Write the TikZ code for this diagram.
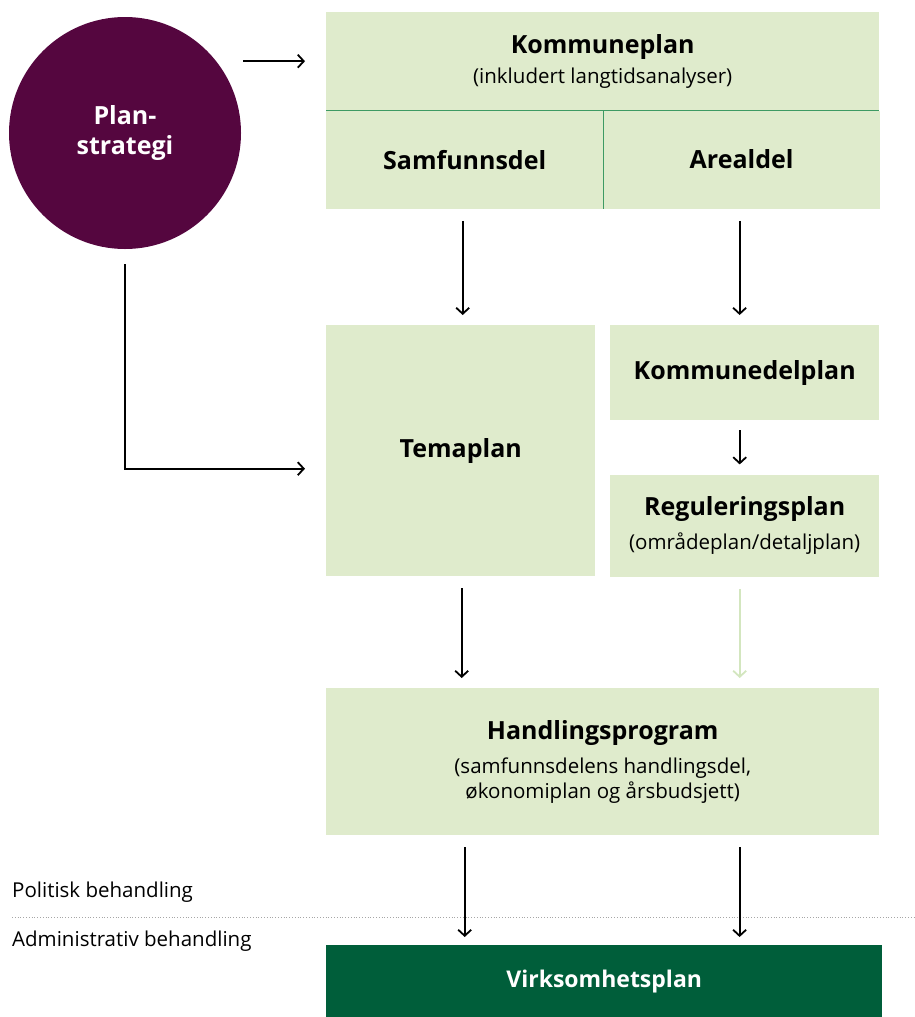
\documentclass[tikz,border=0pt]{standalone}
\usepackage{fontspec}
\setmainfont{Open Sans}
\usetikzlibrary{arrows.meta, positioning}
\definecolor{planlys}{HTML}{DFEBCC}
\definecolor{planlinje}{HTML}{3E9A63}
\definecolor{planlilla}{HTML}{55063F}
\definecolor{planmork}{HTML}{005E3A}
\definecolor{pilgronn}{HTML}{D3E6BF}
\newcommand{\tittelfont}{\fontsize{25}{32}\selectfont\bfseries}
\newcommand{\undertekst}{\fontsize{20.5}{26}\selectfont}
\tikzset{
  boks/.style={fill=planlys, inner sep=0pt, align=center, anchor=north west},
  pil/.style={-{Straight Barb[length=6pt, width=13pt]}, line width=1.8pt},
}

\begin{document}
\begin{tikzpicture}[x=1pt, y=-1pt]
\useasboundingbox (0,0) rectangle (915,1017);

\node[circle, fill=planlilla, minimum size=232pt, inner sep=0pt, text=white, align=center, font=\tittelfont] (strategi) at (125,133) {Plan-\\[-2pt]strategi};

\node[boks, minimum width=553pt, minimum height=98pt] (kplan) at (326,12) {{\tittelfont Kommuneplan}\\[7pt] {\undertekst (inkludert langtidsanalyser)}};
\node[boks, minimum width=277pt, minimum height=98pt, font=\tittelfont, below right=0pt and 0pt of kplan.south west] (samf) {Samfunnsdel};
\node[boks, minimum width=276pt, minimum height=98pt, font=\tittelfont, right=0pt of samf] (areal) {Arealdel};
\draw[planlinje, line width=1.6pt] (kplan.south west) -- (kplan.south east);
\draw[planlinje, line width=1.6pt] (samf.north east) -- (samf.south east);

\node[boks, minimum width=269pt, minimum height=251pt, font=\tittelfont] (tema) at (326,325) {Temaplan};
\node[boks, minimum width=269pt, minimum height=95pt, font=\tittelfont] (kdel) at (610,325) {Kommunedelplan};
\node[boks, minimum width=269pt, minimum height=102pt, below=54pt of kdel.south west, anchor=north west] (regplan) {{\tittelfont Reguleringsplan}\\[11pt] {\undertekst (områdeplan/detaljplan)}};

\node[boks, minimum width=553pt, minimum height=147pt] (hprog) at (326,688) {{\tittelfont Handlingsprogram}\\[12pt] {\undertekst (samfunnsdelens handlingsdel,}\\[2pt] {\undertekst økonomiplan og årsbudsjett)}};

\node[boks, fill=planmork, text=white, minimum width=556pt, minimum height=72pt, font=\fontsize{23}{28}\selectfont\bfseries] (virk) at (326,945) {Virksomhetsplan};

\node[anchor=west, inner sep=0pt, font=\undertekst] (politisk) at (12,892) {Politisk behandling};
\node[anchor=west, inner sep=0pt, font=\undertekst] (admin) at (12,941) {Administrativ behandling};
\draw[gray!70, dotted, line width=0.8pt] (12,917) -- (915,917);

% piler
\draw[pil] ([xshift=2pt]strategi.east |- kplan.west) -- ([xshift=-21pt]kplan.west);
\draw[pil] ([yshift=-15pt]strategi.south) |- ([xshift=-21pt, yshift=-18pt]tema.west);
\draw[pil] ([xshift=-2pt, yshift=-12pt]samf.south) -- ([xshift=-2pt, yshift=10pt]samf.south |- tema.north);
\draw[pil] ([xshift=-2pt, yshift=-12pt]areal.south) -- ([xshift=-2pt, yshift=10pt]areal.south |- kdel.north);
\draw[pil] ([xshift=-5pt, yshift=-10pt]kdel.south) -- ([xshift=-5pt, yshift=10pt]regplan.north);
\draw[pil] ([xshift=1pt, yshift=-12pt]tema.south) -- ([xshift=1pt, yshift=10pt]tema.south |- hprog.north);
\draw[pil, pilgronn] ([xshift=-5pt, yshift=-12pt]regplan.south) -- ([xshift=-5pt, yshift=10pt]regplan.south |- hprog.north);
\draw[pil] ([yshift=-12pt]samf.south |- hprog.south) -- ([yshift=8pt]samf.south |- virk.north);
\draw[pil] ([xshift=-2pt, yshift=-12pt]areal.south |- hprog.south) -- ([xshift=-2pt, yshift=8pt]areal.south |- virk.north);
\end{tikzpicture}
\end{document}
